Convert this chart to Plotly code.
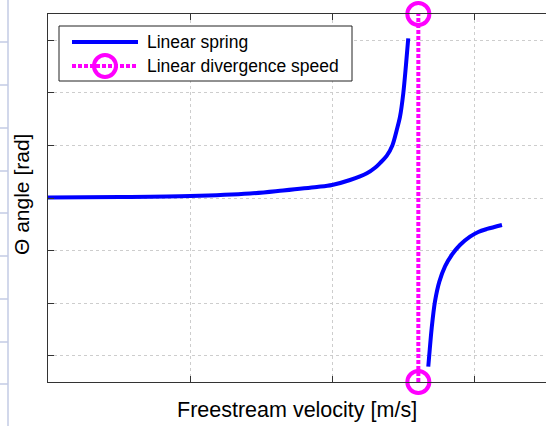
import plotly.graph_objects as go

# ---- data ----
v_pre = [0.0, 0.507, 1.0, 1.423, 1.655, 1.894, 2.0, 2.127, 2.246, 2.303, 2.338, 2.385,
         2.425, 2.456, 2.479, 2.502, 2.521, 2.537]
theta_pre = [0.01, 0.019, 0.038, 0.086, 0.143, 0.209, 0.247, 0.342, 0.47, 0.575, 0.665, 0.80,
             1.0, 1.293, 1.546, 1.99, 2.53, 3.036]
v_post = [2.678, 2.685, 2.702, 2.725, 2.756, 2.796, 2.843, 2.901, 2.972, 3.030, 3.092, 3.197]
theta_post = [-3.207, -2.985, -2.477, -1.971, -1.591, -1.30, -1.084, -0.894, -0.736, -0.646,
              -0.589, -0.513]
v_div = [2.608, 2.608]
theta_div = [-3.5, 3.5]
names = ["Linear spring", "Linear divergence speed"]
x_title = "Freestream velocity [m/s]"
y_title = "Θ angle [rad]"
x_ticks = [0, 1, 2, 3]
y_ticks = [-3, -2, -1, 0, 1, 2, 3]

W, H = 546, 426
L, R, T, B = 48, 546, 14, 382
def px(x):
    return (x - L) / (R - L)
def py(y):
    return (B - y) / (B - T)

FONT = "Arial, Liberation Sans, sans-serif"
BLUE = "#0000ff"
MAG = "#ff00ff"

fig = go.Figure()
fig.add_trace(go.Scatter(
    x=v_pre + [None] + v_post, y=theta_pre + [None] + theta_post,
    mode="lines", line=dict(color=BLUE, width=4, shape="spline", smoothing=0.9),
    name=names[0], showlegend=False))
fig.add_trace(go.Scatter(
    x=v_div, y=theta_div, mode="lines+markers",
    line=dict(color=MAG, width=4, dash="4px,2px"),
    marker=dict(symbol="circle-open", size=22, color=MAG, line=dict(color=MAG, width=4)),
    cliponaxis=False, name=names[1], showlegend=False))

shapes = []
# manual legend (MATLAB-style, long line samples)
shapes.append(dict(type="rect", xref="paper", yref="paper",
                   x0=px(59), x1=px(352), y0=py(81), y1=py(26),
                   line=dict(color="#222", width=1), fillcolor="white", layer="above"))
shapes.append(dict(type="line", xref="paper", yref="paper",
                   x0=px(72), x1=px(138), y0=py(42), y1=py(42),
                   line=dict(color=BLUE, width=4)))
shapes.append(dict(type="line", xref="paper", yref="paper",
                   x0=px(72), x1=px(138), y0=py(66), y1=py(66),
                   line=dict(color=MAG, width=4, dash="4px,2px")))
shapes.append(dict(type="circle", xref="paper", yref="paper",
                   x0=px(94), x1=px(116), y0=py(77), y1=py(55),
                   line=dict(color=MAG, width=4)))
# light window edge artifact at the far left
shapes.append(dict(type="line", xref="paper", yref="paper",
                   x0=px(8), x1=px(8), y0=py(426), y1=py(0),
                   line=dict(color="#c3cbe4", width=1.5)))
for yy in [42, 85, 128, 171, 213, 256, 299, 342, 384]:
    shapes.append(dict(type="line", xref="paper", yref="paper",
                       x0=px(0), x1=px(8), y0=py(yy), y1=py(yy),
                       line=dict(color="#c3cbe4", width=1.5)))

annotations = [
    dict(text=names[0], xref="paper", yref="paper", x=px(145), y=py(42),
         xanchor="left", yanchor="middle", showarrow=False,
         font=dict(family=FONT, size=17.5, color="black")),
    dict(text=names[1], xref="paper", yref="paper", x=px(145), y=py(66),
         xanchor="left", yanchor="middle", showarrow=False,
         font=dict(family=FONT, size=17.5, color="black")),
    dict(text=x_title, xref="paper", yref="paper", x=px(297), y=py(410),
         xanchor="center", yanchor="middle", showarrow=False,
         font=dict(family=FONT, size=21.5, color="black")),
    dict(text=y_title, xref="paper", yref="paper", x=px(21), y=py(195),
         xanchor="center", yanchor="middle", showarrow=False, textangle=-90,
         font=dict(family=FONT, size=21, color="black")),
]

fig.update_layout(
    width=W, height=H,
    margin=dict(l=L, r=W - R, t=T, b=H - B, pad=0),
    paper_bgcolor="white", plot_bgcolor="white",
    shapes=shapes, annotations=annotations,
    showlegend=False,
)
fig.update_xaxes(range=[0, (R - L) / 142.0], tickvals=x_ticks, showticklabels=False,
                 ticks="inside", ticklen=6, tickcolor="#333",
                 showline=True, linecolor="#333", linewidth=1, mirror="ticks",
                 showgrid=True, gridcolor="#cdcdcd", griddash="dot", gridwidth=1,
                 zeroline=False)
fig.update_yaxes(range=[-3.5, 3.5], tickvals=y_ticks, showticklabels=False,
                 ticks="inside", ticklen=6, tickcolor="#333",
                 showline=True, linecolor="#333", linewidth=1, mirror=False,
                 showgrid=True, gridcolor="#cdcdcd", griddash="dot", gridwidth=1,
                 zeroline=False)

fig.write_html("out.html", config={"displayModeBar": False},
               post_script="document.body.style.margin='0';document.body.style.overflow='hidden';")
